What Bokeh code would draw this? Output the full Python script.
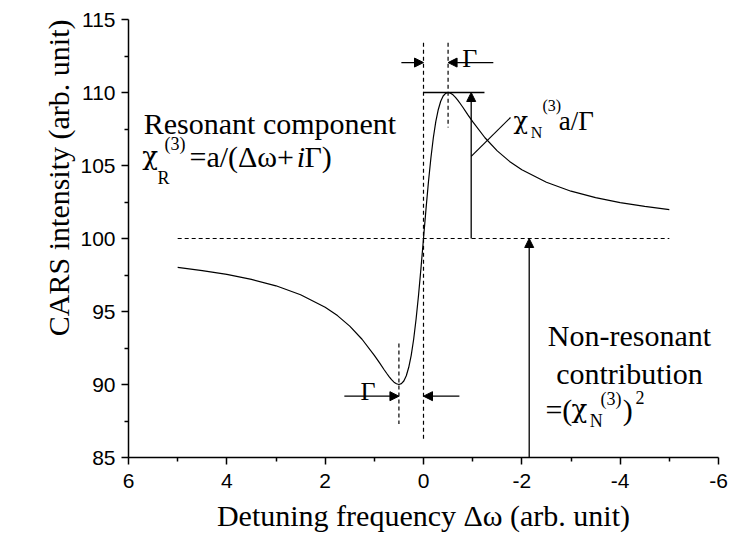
from bokeh.plotting import figure
from bokeh.models import Range1d, FixedTicker, Arrow, NormalHead, Label, Title, LinearAxis
from bokeh.embed import file_html
from bokeh.resources import INLINE

# ---- data ----
detuning = [5.0, 4.5, 4.0, 3.5, 3.0, 2.5, 2.0, 1.75, 1.5, 1.25, 1.0, 0.9, 0.8, 0.75, 0.7,
            0.65, 0.6, 0.55, 0.5, 0.45, 0.4, 0.35, 0.3, 0.25, 0.2, 0.15, 0.1, 0.05, 0.0,
            -0.05, -0.1, -0.15, -0.2, -0.25, -0.3, -0.35, -0.4, -0.45, -0.5, -0.55, -0.6,
            -0.65, -0.7, -0.75, -0.8, -0.9, -1.0, -1.25, -1.5, -1.75, -2.0, -2.5, -3.0,
            -3.5, -4.0, -4.5, -5.0]
intensity = [98.02, 97.80, 97.54, 97.20, 96.76, 96.15, 95.29, 94.72, 94.00, 93.10, 92.00,
             91.51, 91.01, 90.77, 90.54, 90.33, 90.16, 90.05, 90.00, 90.06, 90.24, 90.60,
             91.18, 92.00, 93.10, 94.50, 96.15, 98.02, 100.00,
             101.98, 103.85, 105.50, 106.90, 108.00, 108.82, 109.40, 109.76, 109.94, 110.00,
             109.95, 109.84, 109.67, 109.46, 109.23, 108.99, 108.49, 108.00, 106.90, 106.00,
             105.28, 104.71, 103.85, 103.24, 102.80, 102.46, 102.20, 101.98]

x_major = [6, 4, 2, 0, -2, -4, -6]
x_minor = [5, 3, 1, -1, -3, -5]
x_tick_labels = {6: "6", 4: "4", 2: "2", 0: "0", -2: "-2", -4: "-4", -6: "-6"}
y_major = [85, 90, 95, 100, 105, 110, 115]
y_minor = [87.5, 92.5, 97.5, 102.5, 107.5, 112.5]

baseline_level = 100.0
peak_level = 110.0
gamma = 0.5

SERIF = "Liberation Serif"
GREEK = "DejaVu Serif"
SANS = "Liberation Sans"

p = figure(width=729, height=540, x_range=Range1d(6, -6), y_range=Range1d(85, 115),
           output_backend="svg", toolbar_location=None,
           min_border_left=128, min_border_right=11, min_border_top=19, min_border_bottom=83)
p.xgrid.visible = False
p.ygrid.visible = False
p.outline_line_color = None
p.background_fill_color = "white"
p.border_fill_color = "white"

p.xaxis.ticker = FixedTicker(ticks=x_major, minor_ticks=x_minor)
p.yaxis.ticker = FixedTicker(ticks=y_major, minor_ticks=y_minor)
p.xaxis.major_label_overrides = x_tick_labels
for ax in (p.xaxis[0], p.yaxis[0]):
    ax.axis_line_width = 1.5
    ax.axis_line_color = "black"
    ax.major_tick_line_width = 1.5
    ax.minor_tick_line_width = 1.5
    ax.major_tick_line_color = "black"
    ax.minor_tick_line_color = "black"
    ax.major_tick_in = 0
    ax.major_tick_out = 7
    ax.minor_tick_in = 0
    ax.minor_tick_out = 4
    ax.major_label_text_font = SANS
    ax.major_label_text_font_size = "21px"
    ax.major_label_text_color = "black"
    ax.axis_label_text_font = SERIF
    ax.axis_label_text_font_size = "30px"
    ax.axis_label_text_font_style = "normal"
    ax.axis_label_text_color = "black"
p.xaxis.major_label_standoff = 9
p.yaxis.major_label_standoff = 6

p.xaxis.axis_label = "Detuning frequency \u0394\u03c9 (arb. unit)"
p.xaxis.axis_label_standoff = 8

# invisible spacer axis: pushes the y title further left
spacer = LinearAxis(ticker=FixedTicker(ticks=[], minor_ticks=[]), axis_line_color=None,
                    major_tick_line_color=None, minor_tick_line_color=None,
                    major_tick_in=0, major_tick_out=36, minor_tick_in=0, minor_tick_out=0,
                    major_label_standoff=0)
p.add_layout(spacer, "left")

# y-axis title as a side title aligned to the top of the axis
ytitle_kw = dict(text="CARS intensity (arb. unit)", align="right", text_font=SERIF,
                 text_font_size="30px", text_font_style="normal", text_color="black")
if "standoff" in Title.properties():
    ytitle_kw["standoff"] = 6
p.add_layout(Title(**ytitle_kw), "left")

# curve
p.line(detuning, intensity, line_color="black", line_width=1.2)

# dashed guide lines
dash = "4 3"
p.line([5, -5], [baseline_level, baseline_level], line_color="black", line_width=1.2, line_dash=dash)
p.line([0, 0], [113.4, 86.2], line_color="black", line_width=1.2, line_dash=dash)
p.line([-gamma, -gamma], [113.4, 107.6], line_color="black", line_width=1.2, line_dash=dash)
p.line([gamma, gamma], [92.8, 87.3], line_color="black", line_width=1.2, line_dash=dash)

# solid lines
p.line([0, -1.24], [peak_level, peak_level], line_color="black", line_width=1.5)
p.line([-0.97, -1.77], [105.62, 108.29], line_color="black", line_width=1.2)


def arrow(xs, ys, xe, ye):
    p.add_layout(Arrow(end=NormalHead(size=9, fill_color="black", line_color="black", line_width=1),
                       x_start=xs, y_start=ys, x_end=xe, y_end=ye,
                       line_color="black", line_width=1.3))


arrow(0.45, 112.05, 0.0, 112.05)
arrow(-1.42, 112.05, -gamma, 112.05)
arrow(-0.97, baseline_level, -0.97, peak_level)
arrow(1.61, 89.2, gamma, 89.2)
arrow(-0.73, 89.2, 0.0, 89.2)
arrow(-2.15, 85.0, -2.15, baseline_level)


def txt(x, y, s, size, align="left", style="normal", font=SERIF):
    p.add_layout(Label(x=x, y=y, text=s, text_font=font, text_font_size=f"{size}px",
                       text_align=align, text_baseline="alphabetic", text_color="black",
                       text_font_style=style))


# Resonant component
txt(5.69, 107.88, "Resonant component", 30)
txt(5.72, 105.62, "\u03c7", 26, font=GREEK)
txt(5.41, 104.11, "R", 18)
txt(5.27, 106.50, "(3)", 18)
txt(4.76, 105.62, "=a/(\u0394\u03c9+", 30)
txt(2.58, 105.62, "i", 30, style="italic")
txt(2.42, 105.62, "\u0393)", 30)

# Gamma labels
txt(-0.79, 112.33, "\u0393", 26)
txt(1.28, 89.52, "\u0393", 26)

# chi_N a / Gamma
txt(-1.83, 108.08, "\u03c7", 24, font=GREEK)
txt(-2.18, 107.26, "N", 16)
txt(-2.42, 109.11, "(3)", 16)
txt(-2.75, 108.08, "a/\u0393", 27)

# Non-resonant contribution
txt(-4.19, 93.36, "Non-resonant", 30, align="center")
txt(-4.19, 90.75, "contribution", 30, align="center")
txt(-2.48, 88.29, "=(", 30)
txt(-3.01, 88.29, "\u03c7", 26, font=GREEK)
txt(-3.38, 87.47, "N", 18)
txt(-3.60, 89.04, "(3)", 18)
txt(-4.05, 88.29, ")", 30)
txt(-4.31, 89.11, "2", 18)

open("out.html", "w").write(file_html(p, INLINE))
